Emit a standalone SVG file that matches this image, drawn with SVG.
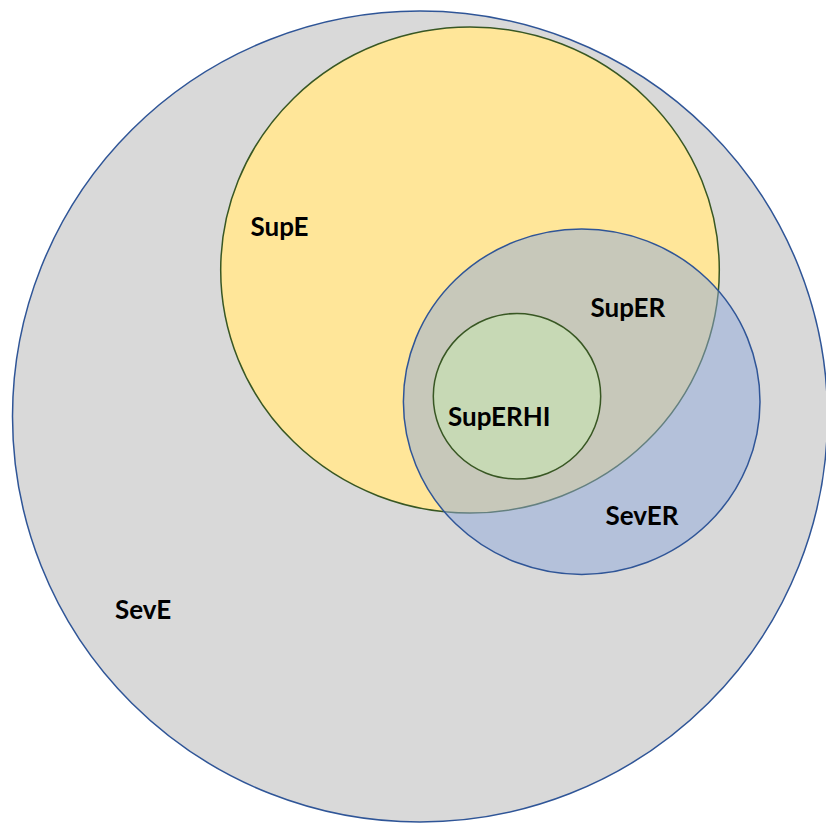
<svg xmlns="http://www.w3.org/2000/svg" width="826" height="823" viewBox="0 0 826 823">
<style>
.lbl{font-family:"Lato","Open Sans","Liberation Sans",sans-serif;font-weight:bold;font-size:26px;fill:#000}
</style>
<rect width="826" height="823" fill="#ffffff"/>
<g id="SevE">
<ellipse cx="420" cy="416.5" rx="407.5" ry="405.5" fill="#d9d9d9" stroke="#2f5597" stroke-width="1.5"/>
<text class="lbl" x="115" y="619">SevE</text>
</g>
<g id="SupE">
<ellipse cx="470" cy="270" rx="249.3" ry="243" fill="#ffe699" stroke="#385723" stroke-width="1.5"/>
<text class="lbl" x="250.5" y="236">SupE</text>
</g>
<g id="SevER">
<ellipse cx="581.7" cy="401.7" rx="178.3" ry="172.7" fill="#8faadc" fill-opacity="0.5" stroke="#2f5597" stroke-width="1.5"/>
<text class="lbl" x="605.5" y="525">SevER</text>
</g>
<g id="SupERHI">
<ellipse cx="517" cy="396.2" rx="83.7" ry="82.8" fill="#c7d9b5" stroke="#385723" stroke-width="1.5"/>
<text class="lbl" x="448" y="426">SupERHI</text>
</g>
<g id="SupER">
<text class="lbl" x="590.5" y="317">SupER</text>
</g>
<g id="connectors"/>
</svg>
